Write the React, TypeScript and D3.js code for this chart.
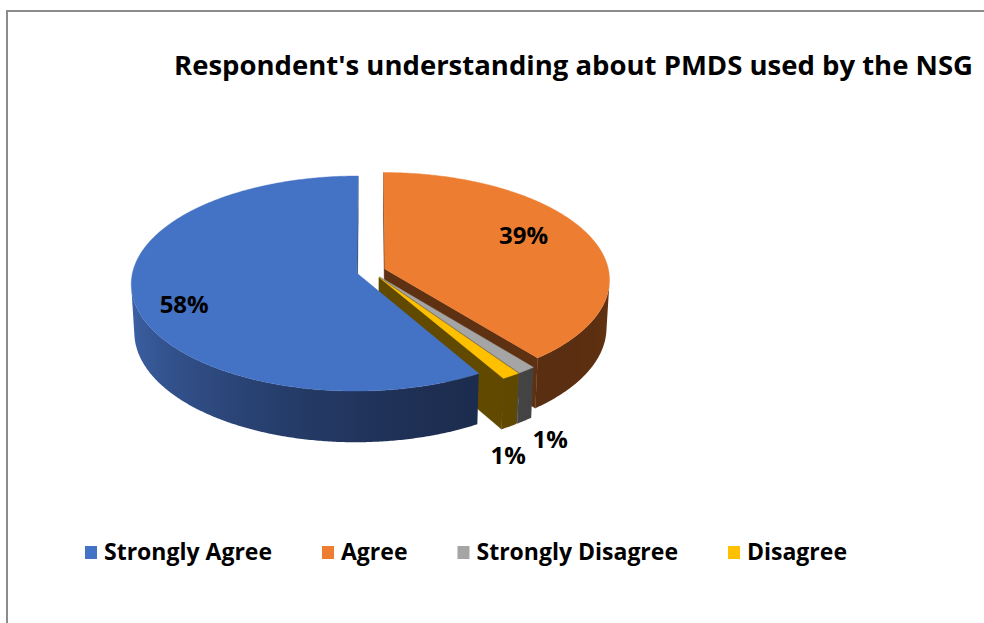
import React from 'react';
import * as d3 from 'd3';

const categories = ['Strongly Agree', 'Agree', 'Strongly Disagree', 'Disagree'];
const values = [58.4, 39.2, 1.2, 1.2];
const topColors = ['#4472c4', '#ed7d31', '#a5a5a5', '#ffc000'];
const sideLight = ['#4671c0', '#b8602a', '#8a8a8a', '#b88c00'];
const sideDark = ['#1b2b4c', '#5a2e10', '#434343', '#5e4700'];
const wallColors = ['#22375f', '#5e3113', '#4b4b4b', '#614a00'];
const titleText = "Respondent's understanding about PMDS used by the NSG";

// label placement per slice: radius factor, angular shift (deg), level (0 = top face, 1 = below)
const labelLayout = [
  { r: 0.8, shift: -6, level: 0 },
  { r: 0.72, shift: -7.5, level: 0 },
  { r: 1.17, shift: 0.3, level: 1 },
  { r: 1.18, shift: 6.3, level: 1 },
];

const W = 984;
const H = 623;
const PHI = (28.3 * Math.PI) / 180;
const SP = Math.sin(PHI);
const CP = Math.cos(PHI);
const DIST = 9.12;
const SCALE = 224;
const DEPTH = 0.245;
const EXPLODE = 0.0655;
const CX = 371;
const CY = 271.3;
const CAM = [0, -DIST * CP, DIST * SP];
const FONT = "'Open Sans', 'DejaVu Sans', sans-serif";

function project(x: number, z: number, h: number): [number, number] {
  const v = z * SP + h * CP;
  const w = -z * CP + h * SP;
  const s = DIST / (DIST - w);
  return [CX + SCALE * x * s, CY - SCALE * v * s];
}

function facing(n: number[], p: number[]) {
  return n[0] * (CAM[0] - p[0]) + n[1] * (CAM[1] - p[1]) + n[2] * (CAM[2] - p[2]) > 0;
}

function shade(t: number) {
  return (1 + Math.cos(t - (315 * Math.PI) / 180)) / 2;
}

const pts = (arr: [number, number][]) =>
  'M' + arr.map((p) => `${p[0].toFixed(2)},${p[1].toFixed(2)}`).join('L') + 'Z';

function measure(text: string, font: string) {
  try {
    const ctx = document.createElement('canvas').getContext('2d');
    if (ctx) {
      ctx.font = font;
      return ctx.measureText(text).width;
    }
  } catch (e) {
    /* ignore */
  }
  return text.length * 12;
}

export default function App() {
  const total = d3.sum(values);
  const start = (-2 * Math.PI * values[0]) / total;
  const pie = d3
    .pie<number>()
    .sort(null)
    .value((d) => d)
    .startAngle(start)
    .endAngle(start + 2 * Math.PI);
  const arcs = pie(values);

  const walls: { d: string; fill: string; depth: number; key: string }[] = [];
  const sides: { d: string; fill: string; key: string; grad: any }[] = [];
  const tops: { d: string; fill: string; key: string }[] = [];
  const labels: { x: number; y: number; text: string; key: string }[] = [];

  arcs.forEach((a, i) => {
    const a0 = a.startAngle;
    const a1 = a.endAngle;
    const mid = (a0 + a1) / 2;
    const ox = EXPLODE * Math.sin(mid);
    const oz = EXPLODE * Math.cos(mid);
    const rim = (t: number, h: number) => project(ox + Math.sin(t), oz + Math.cos(t), h);
    const apexT = project(ox, oz, 0);
    const apexB = project(ox, oz, -DEPTH);
    const N = Math.max(2, Math.ceil((a1 - a0) / (Math.PI / 360)));
    const ts = d3.range(N + 1).map((k) => a0 + ((a1 - a0) * k) / N);

    // top face
    tops.push({ d: pts([apexT, ...ts.map((t) => rim(t, 0))]), fill: topColors[i], key: 'top' + i });

    // radial walls
    const sw = [-Math.cos(a0), Math.sin(a0), 0];
    const swp = [ox + 0.5 * Math.sin(a0), oz + 0.5 * Math.cos(a0), -DEPTH / 2];
    if (facing(sw, swp)) {
      walls.push({
        d: pts([apexT, rim(a0, 0), rim(a0, -DEPTH), apexB]),
        fill: wallColors[i],
        depth: Math.hypot(CAM[0] - swp[0], CAM[1] - swp[1], CAM[2] - swp[2]),
        key: 'ws' + i,
      });
    }
    const ew = [Math.cos(a1), -Math.sin(a1), 0];
    const ewp = [ox + 0.5 * Math.sin(a1), oz + 0.5 * Math.cos(a1), -DEPTH / 2];
    if (facing(ew, ewp)) {
      walls.push({
        d: pts([apexT, rim(a1, 0), rim(a1, -DEPTH), apexB]),
        fill: wallColors[i],
        depth: Math.hypot(CAM[0] - ewp[0], CAM[1] - ewp[1], CAM[2] - ewp[2]),
        key: 'we' + i,
      });
    }

    // outer side, split into visible runs
    const vis = d3.range(N).map((k) => {
      const tm = (ts[k] + ts[k + 1]) / 2;
      return facing([Math.sin(tm), Math.cos(tm), 0], [ox + Math.sin(tm), oz + Math.cos(tm), -DEPTH / 2]);
    });
    let k = 0;
    let run = 0;
    while (k < N) {
      if (!vis[k]) {
        k++;
        continue;
      }
      const k0 = k;
      while (k < N && vis[k]) k++;
      const k1 = k;
      const seg = ts.slice(k0, k1 + 1);
      const topPts = seg.map((t) => rim(t, 0));
      const botPts = seg.map((t) => rim(t, -DEPTH)).reverse();
      const xs = topPts.map((p) => p[0]);
      const x0 = d3.min(xs) as number;
      const x1 = d3.max(xs) as number;
      const interp = d3.interpolateRgb(sideDark[i], sideLight[i]);
      const stops = seg
        .map((t, j) => ({
          off: x1 - x0 > 0.01 ? (topPts[j][0] - x0) / (x1 - x0) : 0,
          color: interp(shade(t)),
        }))
        .sort((p, q) => p.off - q.off)
        .filter((s, j, arr) => j % 6 === 0 || j === arr.length - 1);
      const id = `side-${i}-${run}`;
      sides.push({
        d: pts([...topPts, ...botPts]),
        fill: `url(#${id})`,
        key: id,
        grad: { id, x0, x1, stops },
      });
      run++;
    }

    // label
    const lp = labelLayout[i];
    const t = mid + (lp.shift * Math.PI) / 180;
    const [lx, ly] = project(ox + lp.r * Math.sin(t), oz + lp.r * Math.cos(t), lp.level ? -DEPTH : 0);
    labels.push({ x: lx, y: ly, text: `${Math.round(values[i])}%`, key: 'lab' + i });
  });

  walls.sort((p, q) => q.depth - p.depth);

  // legend layout
  const legendSize = 23;
  const legendFont = `bold ${legendSize}px ${FONT}`;
  const sq = { w: 12, h: 13, gap: 7 };
  const itemGap = 50;
  let lx = 85;
  const legendItems = categories.map((c, i) => {
    const x = lx;
    const tw = measure(c, legendFont);
    lx += sq.w + sq.gap + tw + itemGap;
    return { c, x, color: topColors[i] };
  });
  const legendBase = 560;

  return (
    <svg
      width={W}
      height={H}
      viewBox={`0 0 ${W} ${H}`}
      style={{ position: 'absolute', left: 0, top: 0, display: 'block', background: '#fff' }}
    >
      <defs>
        {sides.map((s) => (
          <linearGradient
            key={s.grad.id}
            id={s.grad.id}
            gradientUnits="userSpaceOnUse"
            x1={s.grad.x0}
            x2={s.grad.x1 > s.grad.x0 + 0.01 ? s.grad.x1 : s.grad.x0 + 1}
            y1={0}
            y2={0}
          >
            {s.grad.stops.map((st: any, j: number) => (
              <stop key={j} offset={st.off} stopColor={st.color} />
            ))}
          </linearGradient>
        ))}
      </defs>
      <rect x={0} y={0} width={W} height={H} fill="#fff" />
      <rect x={7} y={11} width={1200} height={800} fill="none" stroke="#8c8c8c" strokeWidth={2} />
      <text
        x={174}
        y={75}
        fontFamily={FONT}
        fontWeight="bold"
        fontSize={27.5}
        fill="#000"
        textLength={799}
        lengthAdjust="spacingAndGlyphs"
      >
        {titleText}
      </text>
      <g>
        {walls.map((w) => (
          <path key={w.key} d={w.d} fill={w.fill} stroke={w.fill} strokeWidth={0.4} strokeLinejoin="round" />
        ))}
        {sides.map((s) => (
          <path key={s.key} d={s.d} fill={s.fill} />
        ))}
        {tops.map((t) => (
          <path key={t.key} d={t.d} fill={t.fill} stroke={t.fill} strokeWidth={0.4} strokeLinejoin="round" />
        ))}
      </g>
      <g fontFamily={FONT} fontWeight="bold" fontSize={24} fill="#000" textAnchor="middle">
        {labels.map((l) => (
          <text key={l.key} x={l.x} y={l.y} dy="0.35em">
            {l.text}
          </text>
        ))}
      </g>
      <g fontFamily={FONT} fontWeight="bold" fontSize={legendSize} fill="#000">
        {legendItems.map((it) => (
          <g key={it.c}>
            <rect x={it.x} y={legendBase - 14} width={sq.w} height={sq.h} fill={it.color} />
            <text x={it.x + sq.w + sq.gap} y={legendBase}>
              {it.c}
            </text>
          </g>
        ))}
      </g>
    </svg>
  );
}
